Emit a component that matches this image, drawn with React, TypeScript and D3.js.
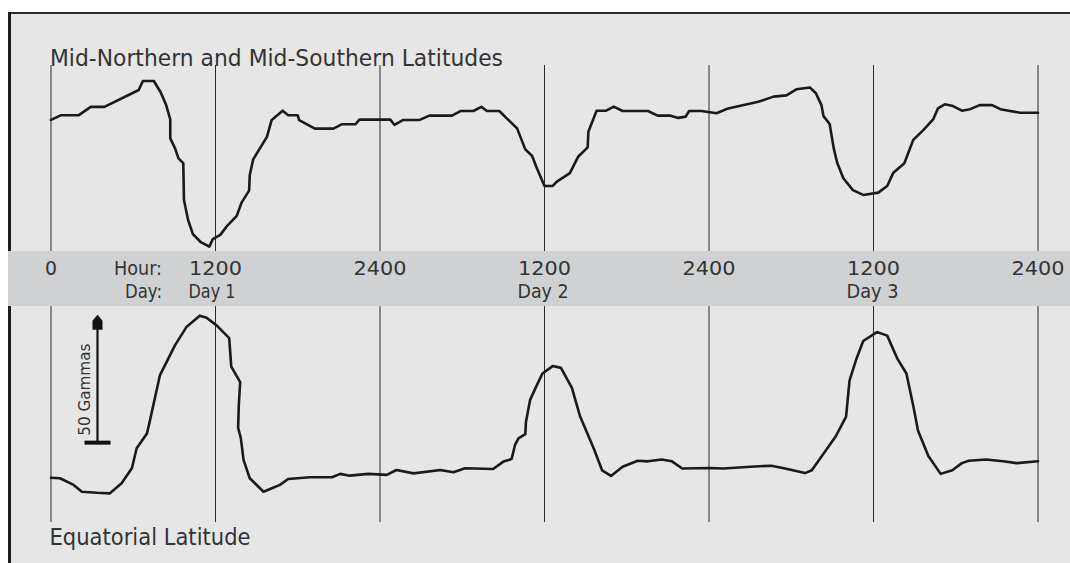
import * as d3 from 'd3';

// magnetometer traces, hour of record vs. gammas
const topHours = [
	0, 0.7, 2.0, 2.9, 3.9, 6.4, 6.7, 7.5, 8.0, 8.4,
	8.7, 8.7, 9.05, 9.3, 9.65, 9.7, 10.0, 10.35, 10.9, 11.55,
	11.8, 12.35, 12.8, 13.55, 13.9, 14.45, 14.5, 14.75, 15.75, 16.1,
	16.9, 17.3, 18.0, 18.1, 19.25, 20.6, 21.2, 22.2, 22.5, 24.75,
	25.05, 25.7, 26.9, 27.6, 29.25, 29.9, 30.8, 31.4, 31.8, 32.7,
	34.0, 34.6, 35.1, 35.4, 36.0, 36.6, 36.9, 37.85, 38.45, 39.15,
	39.2, 39.8, 40.5, 41.05, 41.7, 43.55, 44.25, 45.15, 45.75, 46.3,
	46.55, 47.45, 48.55, 49.4, 51.6, 52.7, 53.65, 54.4, 55.35, 55.8,
	56.2, 56.35, 56.8, 57.1, 57.35, 57.8, 58.5, 59.25, 60.35, 61.0,
	61.45, 62.25, 62.9, 63.65, 64.35, 64.7, 65.2, 65.8, 66.45, 67.05,
	67.75, 68.65, 69.25, 70.7, 72,
];
const topGammas = [
	51.2, 53.0, 53.0, 56.3, 56.3, 62.9, 66.4, 66.4, 62.0, 57.0,
	51.4, 44.0, 40.1, 36.2, 34.3, 19.9, 12.1, 6.6, 3.6, 1.7,
	4.6, 6.3, 9.5, 13.7, 18.9, 23.6, 29.7, 35.8, 44.6, 51.2,
	54.8, 53.0, 53.0, 51.1, 47.8, 47.8, 49.5, 49.5, 51.3, 51.3,
	49.3, 51.2, 51.2, 52.9, 52.9, 54.7, 54.7, 56.3, 54.7, 54.7,
	47.9, 39.7, 37.1, 32.9, 25.4, 25.4, 27.1, 30.4, 36.8, 40.5,
	46.6, 54.8, 54.8, 56.4, 54.7, 54.7, 52.9, 52.9, 52.0, 52.5,
	54.7, 54.7, 53.8, 55.7, 58.3, 60.3, 60.8, 63.2, 63.9, 61.6,
	57.0, 52.7, 49.6, 40.1, 34.5, 28.4, 23.8, 21.9, 22.8, 25.4,
	30.6, 34.3, 43.4, 47.3, 51.4, 55.7, 57.3, 56.6, 54.8, 55.4,
	57.0, 57.0, 55.4, 54.0, 54.0,
];

const bottomHours = [
	0, 0.65, 1.65, 2.25, 3.35, 4.3, 5.15, 5.9, 6.25, 7.0,
	7.2, 7.95, 9.05, 9.9, 10.85, 11.35, 12.1, 13.0, 13.15, 13.8,
	13.7, 13.65, 13.85, 14.05, 14.5, 15.5, 16.2, 16.7, 17.3, 18.9,
	20.5, 21.1, 21.8, 23.15, 24.5, 25.2, 26.45, 28.4, 29.35, 30.2,
	32.25, 33.0, 33.6, 33.85, 34.1, 34.6, 34.65, 34.95, 35.35, 35.85,
	36.6, 37.2, 38.0, 38.6, 39.6, 40.2, 40.85, 41.7, 42.8, 43.55,
	44.55, 45.3, 46.05, 48.05, 49.05, 51.05, 52.55, 53.55, 55.0, 55.5,
	57.25, 58.0, 58.25, 58.75, 59.25, 60.25, 61.0, 61.75, 62.4, 62.9,
	63.25, 64.0, 64.9, 65.75, 66.45, 66.95, 68.2, 69.45, 70.45, 72,
];
const bottomGammas = [
	17.3, 17.1, 14.5, 11.8, 11.4, 11.2, 15.1, 21.0, 28.8, 34.6,
	39.2, 57.4, 69.1, 76.3, 80.6, 79.8, 76.7, 71.8, 60.7, 54.6,
	45.7, 36.8, 32.7, 24.2, 17.1, 11.8, 13.4, 14.5, 16.8, 17.5,
	17.5, 18.8, 18.1, 18.8, 18.4, 20.3, 19.0, 20.3, 19.4, 21.0,
	20.7, 23.6, 24.6, 30.1, 32.7, 34.3, 39.2, 47.7, 52.4, 58.0,
	60.9, 60.2, 52.4, 41.2, 28.6, 20.2, 18.0, 21.6, 23.9, 23.7,
	24.4, 23.7, 20.9, 21.1, 20.9, 21.6, 22.0, 20.9, 19.1, 20.2,
	33.5, 41.2, 55.2, 63.7, 70.7, 74.2, 72.8, 63.7, 58.0, 45.4,
	35.6, 25.8, 18.8, 20.2, 23.0, 23.9, 24.4, 23.7, 23.0, 23.7,
];

const gridHours = [0, 12, 24, 36, 48, 60, 72];
const hourLabels = ['0', '1200', '2400', '1200', '2400', '1200', '2400'];
const dayHours = [12, 36, 60];
const dayLabels = ['Day 1', 'Day 2', 'Day 3'];
const scaleBarBase = 31;
const scaleBarSpan = 50;

const W = 1070;
const H = 563;
const FONT = 'DejaVu Sans, sans-serif';
const INK = '#333';

const x = d3.scaleLinear().domain([0, 72]).range([51, 1038]);
const yTop = d3.scaleLinear().domain([0, 50]).range([251, 123]);
const yBottom = d3.scaleLinear().domain([0, 50]).range([522, 394]);

const traceTop = d3
	.line<number>()
	.x((h) => x(h))
	.y((_, i) => yTop(topGammas[i]));
const traceBottom = d3
	.line<number>()
	.x((h) => x(h))
	.y((_, i) => yBottom(bottomGammas[i]));

const hourLen = (s: string) => (s.length === 1 ? 12 : 53);
const dayLen = [47, 51, 52];

export default function App() {
	const barX = 97.5;
	const barBottom = yBottom(scaleBarBase);
	const barTop = yBottom(scaleBarBase + scaleBarSpan);

	return (
		<svg
			width={W}
			height={H}
			style={{ position: 'absolute', left: 0, top: 0, display: 'block' }}
		>
			<rect x={0} y={0} width={W} height={H} fill='#fff' />
			<rect x={8} y={12} width={W - 8} height={H - 12} fill='#e6e6e6' />
			<line x1={8} x2={W} y1={13} y2={13} stroke='#2a2a2a' strokeWidth={2} />
			<line x1={9.5} x2={9.5} y1={12} y2={H} stroke='#1e1e1e' strokeWidth={3} />

			{/* grid */}
			{gridHours.map((h) => (
				<g key={h}>
					<line x1={x(h)} x2={x(h)} y1={65} y2={251} stroke='#2a2a2a' strokeWidth={1} />
					<line x1={x(h)} x2={x(h)} y1={306} y2={522} stroke='#2a2a2a' strokeWidth={1} />
				</g>
			))}

			{/* time band */}
			<rect x={8} y={251} width={W - 8} height={55} fill='#d0d1d3' />
			{gridHours.map((h, i) => (
				<text
					key={'h' + i}
					x={x(h)}
					y={274.5}
					textAnchor='middle'
					fontFamily={FONT}
					fontSize={19}
					fill={INK}
					textLength={hourLen(hourLabels[i])}
					lengthAdjust='spacingAndGlyphs'
				>
					{hourLabels[i]}
				</text>
			))}
			<text x={162} y={274.5} textAnchor='end' fontFamily={FONT} fontSize={19} fill={INK}
				textLength={48} lengthAdjust='spacingAndGlyphs'>Hour:</text>
			<text x={162} y={297.5} textAnchor='end' fontFamily={FONT} fontSize={19} fill={INK}
				textLength={37} lengthAdjust='spacingAndGlyphs'>Day:</text>
			{dayHours.map((h, i) => (
				<text
					key={'d' + i}
					x={x(h) - 27}
					y={297.5}
					fontFamily={FONT}
					fontSize={19}
					fill={INK}
					textLength={dayLen[i]}
					lengthAdjust='spacingAndGlyphs'
				>
					{dayLabels[i]}
				</text>
			))}

			{/* traces */}
			<path d={traceTop(topHours) ?? ''} fill='none' stroke='#1a1a1a' strokeWidth={2.6}
				strokeLinejoin='round' strokeLinecap='round' />
			<path d={traceBottom(bottomHours) ?? ''} fill='none' stroke='#1a1a1a' strokeWidth={2.6}
				strokeLinejoin='round' strokeLinecap='round' />

			{/* panel titles */}
			<text x={50} y={65.5} fontFamily={FONT} fontSize={22.5} fill={INK}
				textLength={453} lengthAdjust='spacingAndGlyphs'>
				Mid-Northern and Mid-Southern Latitudes
			</text>
			<text x={49.5} y={545} fontFamily={FONT} fontSize={22.5} fill={INK}
				textLength={201} lengthAdjust='spacingAndGlyphs'>
				Equatorial Latitude
			</text>

			{/* 50 gamma scale bar */}
			<line x1={barX} x2={barX} y1={barBottom} y2={barTop + 12} stroke='#111' strokeWidth={2.2} />
			<rect x={84.5} y={barBottom - 2} width={26} height={4} fill='#111' />
			<path
				d={`M${barX},${barTop} L${barX + 5},${barTop + 6} L${barX + 5},${barTop + 15} L${barX - 5},${barTop + 15} L${barX - 5},${barTop + 6} Z`}
				fill='#111'
			/>
			<text
				transform={`translate(90,${barBottom - 7}) rotate(-90)`}
				fontFamily={FONT}
				fontSize={16.5}
				fill={INK}
				textLength={92}
				lengthAdjust='spacingAndGlyphs'
			>
				50 Gammas
			</text>
		</svg>
	);
}
